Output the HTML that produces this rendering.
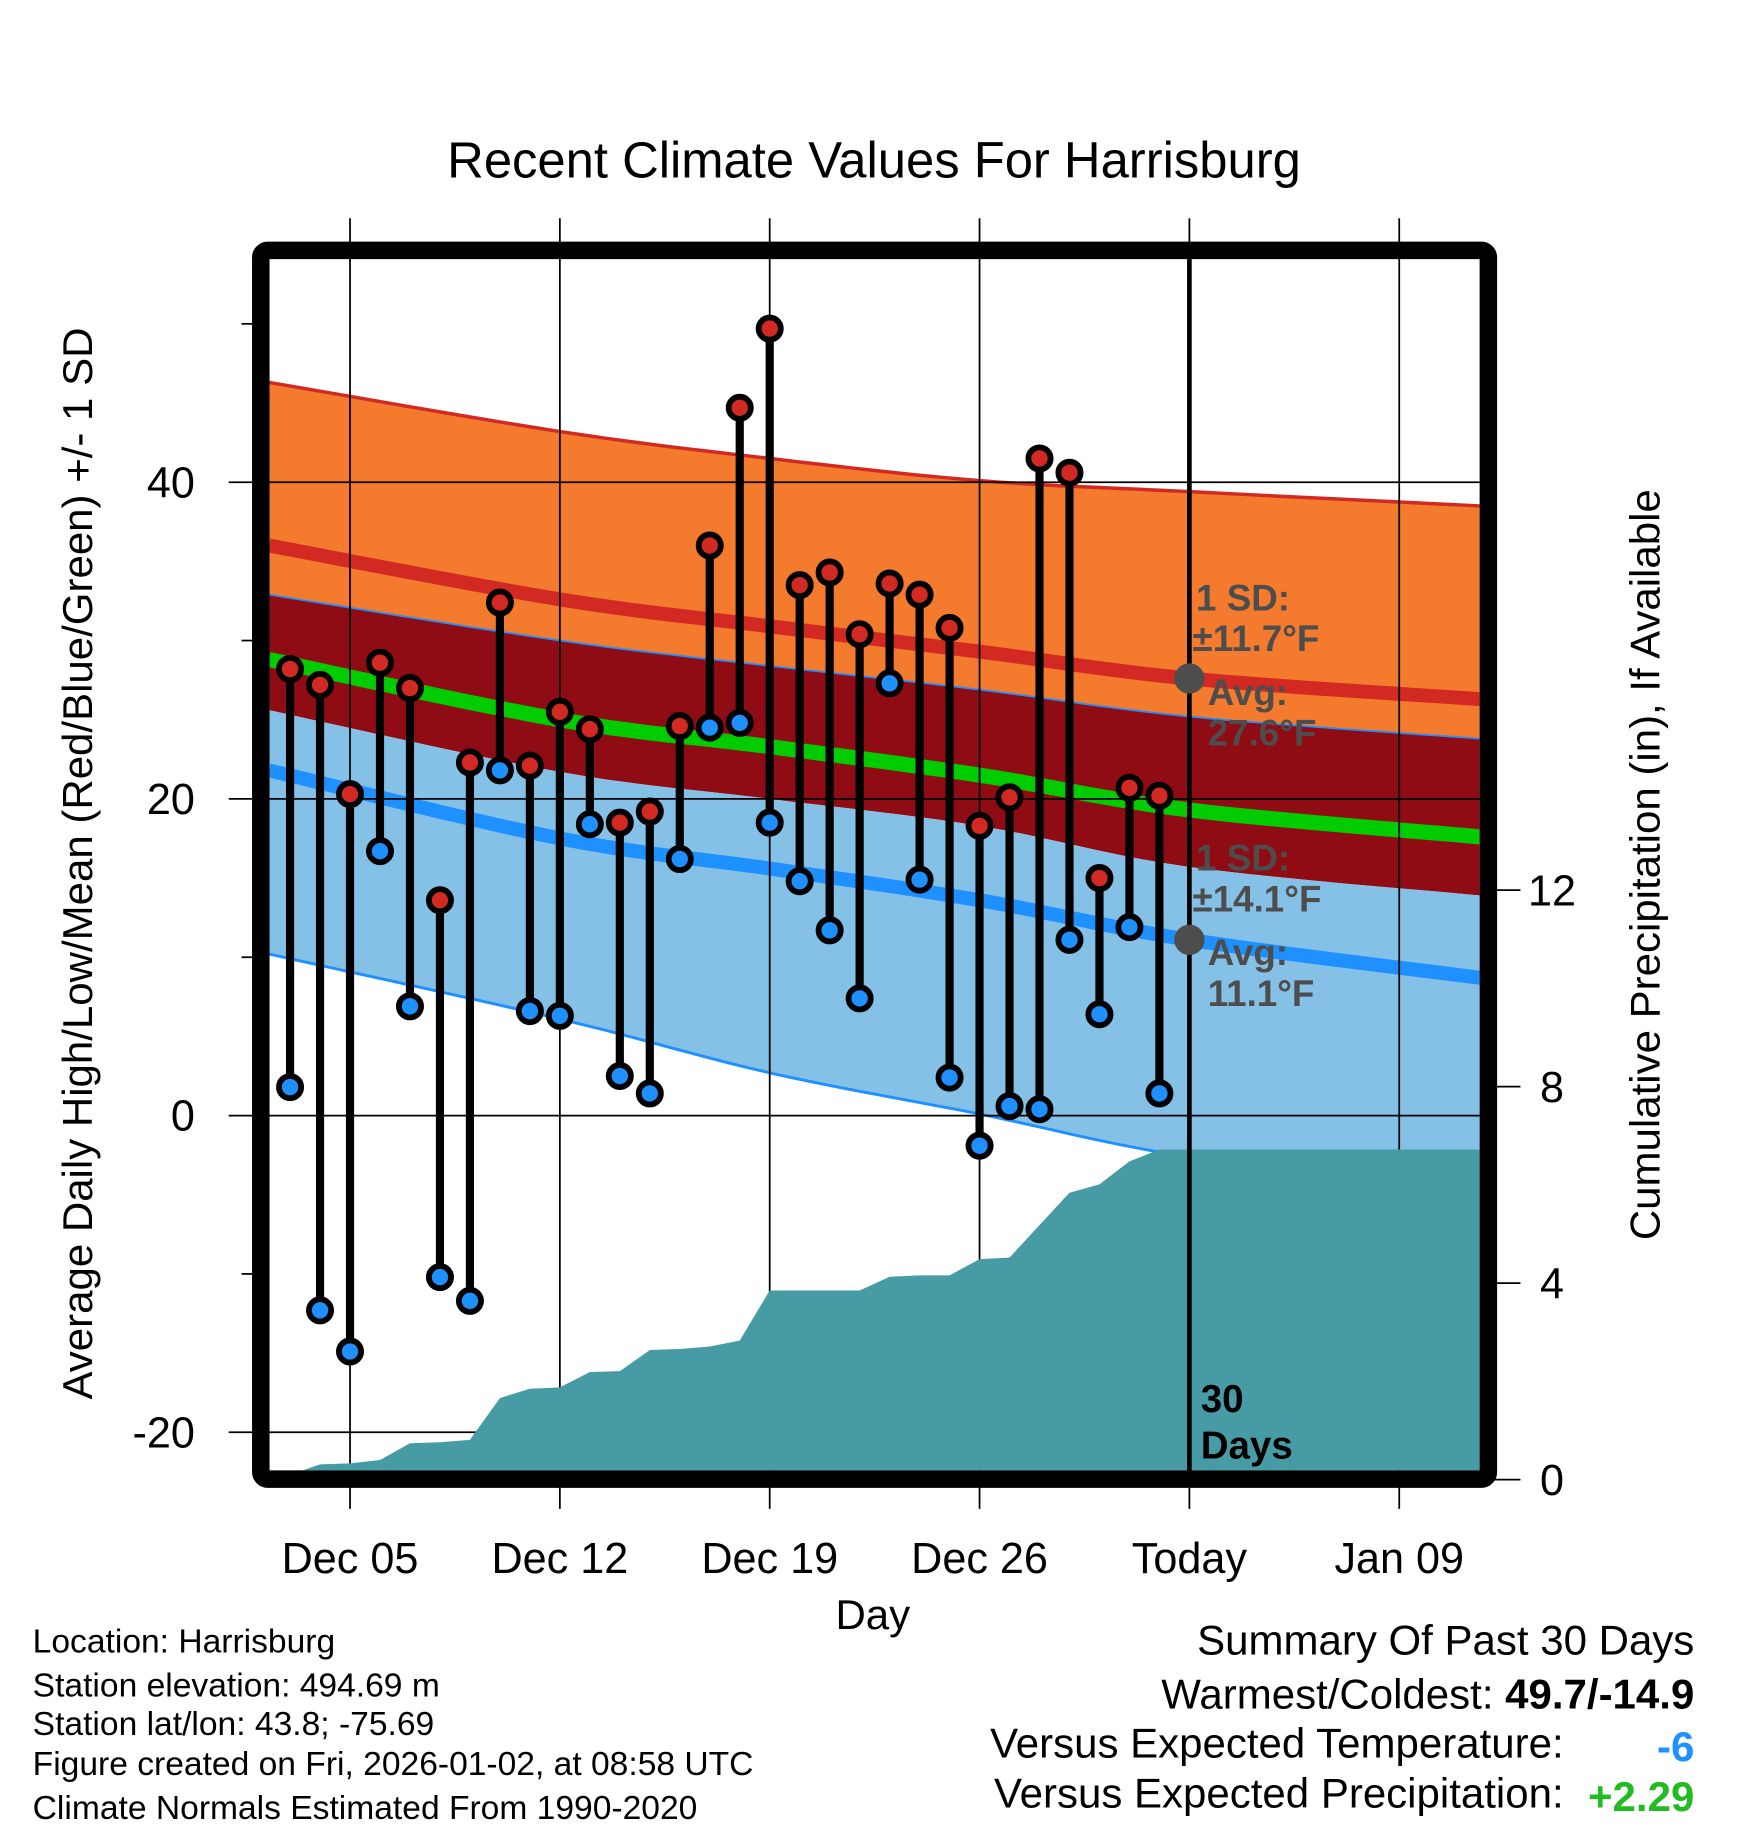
<!DOCTYPE html>
<html><head><meta charset="utf-8"><style>
html,body{margin:0;padding:0;background:#fff;}
svg{display:block;font-family:"Liberation Sans",Arial,sans-serif;}
</style></head><body>
<svg id="chart" width="1748" height="1828" viewBox="0 0 1498 1566.5" xmlns="http://www.w3.org/2000/svg">
<rect width="1498" height="1566.5" fill="#fff"/>
<text x="749" y="152" font-size="43.5" text-anchor="middle">Recent Climate Values For Harrisburg</text>
<g id="bands"></g>
<g id="grid"></g>
<g id="precip"></g>
<g id="marks"></g>
<g id="annot"></g>
<rect x="223.5" y="214.5" width="1052" height="1053" rx="6" fill="none" stroke="#000" stroke-width="15"/>
<g id="axes"></g>
<text transform="translate(79,740) rotate(-90)" font-size="36" text-anchor="middle">Average Daily High/Low/Mean (Red/Blue/Green) +/- 1 SD</text>
<text transform="translate(1422,741) rotate(-90)" font-size="36" text-anchor="middle">Cumulative Precipitation (in), If Available</text>
<text x="748" y="1396" font-size="36" text-anchor="middle">Day</text>
<g font-size="28.8">
<text x="28" y="1416">Location: Harrisburg</text>
<text x="28" y="1454">Station elevation: 494.69 m</text>
<text x="28" y="1487">Station lat/lon: 43.8; -75.69</text>
<text x="28" y="1521">Figure created on Fri, 2026-01-02, at 08:58 UTC</text>
<text x="28" y="1559">Climate Normals Estimated From 1990-2020</text>
</g>
<g font-size="36" text-anchor="end">
<text x="1452" y="1418">Summary Of Past 30 Days</text>
<text x="1452" y="1464">Warmest/Coldest: <tspan font-weight="bold">49.7/-14.9</tspan></text>
<text x="1340" y="1506">Versus Expected Temperature:</text>
<text x="1452" y="1509" font-weight="bold" fill="#1e90ff">-6</text>
<text x="1340" y="1549">Versus Expected Precipitation:</text>
<text x="1452" y="1552" font-weight="bold" fill="#22bb22">+2.29</text>
</g>
</svg>
<script>
// ---- data ----
var days = ["Dec 03","Dec 04","Dec 05","Dec 06","Dec 07","Dec 08","Dec 09","Dec 10","Dec 11","Dec 12","Dec 13","Dec 14","Dec 15","Dec 16","Dec 17","Dec 18","Dec 19","Dec 20","Dec 21","Dec 22","Dec 23","Dec 24","Dec 25","Dec 26","Dec 27","Dec 28","Dec 29","Dec 30","Dec 31","Jan 01"];
var highs = [28.2,27.2,20.3,28.6,27.0,13.6,22.3,32.4,22.1,25.5,24.4,18.5,19.2,24.6,36.0,44.7,49.7,33.5,34.3,30.4,33.6,32.9,30.8,18.3,20.1,41.5,40.6,15.0,20.7,20.2];
var lows = [1.8,-12.3,-14.9,16.7,6.9,-10.2,-11.7,21.8,6.6,6.3,18.4,2.5,1.4,16.2,24.5,24.8,18.5,14.8,11.7,7.4,27.3,14.9,2.4,-1.9,0.6,0.4,11.1,6.4,11.9,1.4];
var precip = [0.1,0.31,0.33,0.4,0.74,0.76,0.81,1.66,1.85,1.88,2.19,2.21,2.64,2.66,2.71,2.83,3.85,3.85,3.85,3.85,4.13,4.16,4.16,4.49,4.52,5.18,5.84,6.01,6.48,6.72];
var normDays = [1.3,11,18,25,32,41.7];
var hiTop = [46.3,43.2,41.5,40.1,39.4,38.5];
var hiAvg = [36.0,32.6,30.9,29.3,27.6,26.3];
var hiBot = [32.9,30.0,28.4,26.9,25.2,23.8];
var meanAvg = [28.8,25.0,23.3,21.5,19.3,17.6];
var loTop = [25.6,21.7,20.0,18.3,15.7,13.9];
var loAvg = [21.8,17.5,15.6,13.6,11.1,8.7];
var loBot = [10.2,6.1,2.7,0.1,-2.6,-4.5];
var xTickDays = [4,11,18,25,32,39];
var xTickLabels = ["Dec 05","Dec 12","Dec 19","Dec 26","Today","Jan 09"];
var yTicks = [40,20,0,-20];
var yMinor = [50,30,10,-10];
var pTicks = [0,4,8,12];

// ---- scales ----
var X0=231, X1=1268, Y0=222, Y1=1260;
function xs(d){return 197.2 + d*25.69;}
function ys(t){return 956 - t*13.57;}
function yp(p){return 1268 - p*42.1;}
var NS='http://www.w3.org/2000/svg';
function mk(parent,tag,attrs){var e=document.createElementNS(NS,tag);for(var k in attrs)e.setAttribute(k,attrs[k]);parent.appendChild(e);return e;}
function G(id){return document.getElementById(id);}
// smooth (Catmull-Rom) sampling of normals
function smooth(arr){
  var P=arr.map(function(v,i){return [xs(normDays[i]),ys(v)];});
  var out=[];
  for(var i=0;i<P.length-1;i++){
    var p0=P[Math.max(0,i-1)],p1=P[i],p2=P[i+1],p3=P[Math.min(P.length-1,i+2)];
    for(var t=0;t<1;t+=0.1){
      var t2=t*t,t3=t2*t;
      var x=0.5*((2*p1[0])+(-p0[0]+p2[0])*t+(2*p0[0]-5*p1[0]+4*p2[0]-p3[0])*t2+(-p0[0]+3*p1[0]-3*p2[0]+p3[0])*t3);
      var y=0.5*((2*p1[1])+(-p0[1]+p2[1])*t+(2*p0[1]-5*p1[1]+4*p2[1]-p3[1])*t2+(-p0[1]+3*p1[1]-3*p2[1]+p3[1])*t3);
      out.push(x.toFixed(1)+','+y.toFixed(1));
    }
  }
  var L=P[P.length-1];out.push(L[0].toFixed(1)+','+L[1].toFixed(1));
  return out;
}
function areaPts(a,b){return smooth(a).concat(smooth(b).reverse()).join(' ');}

var bands=G('bands');
var clip=mk(bands,'clipPath',{id:'pc'});mk(clip,'rect',{x:X0,y:Y0,width:X1-X0,height:Y1-Y0});
var bg=mk(bands,'g',{'clip-path':'url(#pc)'});
var e;
e=mk(bg,'polygon',{points:areaPts(hiTop,hiBot),fill:'#f47a2e'});


e=mk(bg,'polygon',{points:areaPts(hiBot,loTop),fill:'#900c14'});


e=mk(bg,'polygon',{points:areaPts(loTop,loBot),fill:'#85c1e6'});


e=mk(bg,'polyline',{points:smooth(hiTop).join(' '),fill:'none',stroke:'#d22a23',"stroke-width":3});


e=mk(bg,'polyline',{points:smooth(hiBot).join(' '),fill:'none',stroke:'#1e90ff',"stroke-width":1.5});


e=mk(bg,'polyline',{points:smooth(loBot).join(' '),fill:'none',stroke:'#1e90ff',"stroke-width":2.5});


e=mk(bg,'polyline',{points:smooth(hiAvg).join(' '),fill:'none',stroke:'#d22a23',"stroke-width":12});


e=mk(bg,'polyline',{points:smooth(meanAvg).join(' '),fill:'none',stroke:'#00cc00',"stroke-width":13});


e=mk(bg,'polyline',{points:smooth(loAvg).join(' '),fill:'none',stroke:'#1e90ff',"stroke-width":12});



// grid
var grid=G('grid');
xTickDays.forEach(function(d,i){
  var x=xs(d);
  var l=mk(grid,'line',{x1:x,x2:x,y1:187,y2:1293,stroke:'#000','stroke-width':1.5});
  
  
  var t=mk(G('axes'),'text',{x:x,y:1348,'font-size':37,'text-anchor':'middle'});t.textContent=xTickLabels[i];
  
  
});
yTicks.forEach(function(v){
  var y=ys(v);
  var l=mk(grid,'line',{x1:196,x2:X1,y1:y,y2:y,stroke:'#000','stroke-width':1.5});
  
  
  var t=mk(G('axes'),'text',{x:167,y:y+13,'font-size':37,'text-anchor':'end'});t.textContent=v;
  
  
});
yMinor.forEach(function(v){
  var y=ys(v);
  var l=mk(G('axes'),'line',{x1:207,x2:218,y1:y,y2:y,stroke:'#000','stroke-width':1.5});
  
  
});
pTicks.forEach(function(p){
  var y=yp(p);
  var l=mk(G('axes'),'line',{x1:1280,x2:1303,y1:y,y2:y,stroke:'#000','stroke-width':1.5});
  
  
  var t=mk(G('axes'),'text',{x:1330,y:y+13,'font-size':37,'text-anchor':'middle'});t.textContent=p;
  
  
});

// precip area
var pg=mk(G('precip'),'g',{'clip-path':'url(#pc)'});
var pts=[[xs(2),yp(0)]];
precip.forEach(function(p,i){pts.push([xs(i+2),yp(p)]);});
pts.push([X1+5,yp(precip[precip.length-1])]);pts.push([X1+5,yp(0)]);
var pa=mk(pg,'polygon',{points:pts.map(function(p){return p[0].toFixed(1)+','+p[1].toFixed(1);}).join(' '),fill:'#479ba4'});


var tl=mk(G('precip'),'line',{x1:xs(32),x2:xs(32),y1:Y0,y2:Y1,stroke:'#000','stroke-width':4});



// marks
var mg=G('marks');
days.forEach(function(d,i){
  var x=xs(i+2);
  var s=mk(mg,'line',{x1:x,x2:x,y1:ys(highs[i]),y2:ys(lows[i]),stroke:'#000','stroke-width':7});
  
  
});
days.forEach(function(d,i){
  var x=xs(i+2);
  var c=mk(mg,'circle',{cx:x,cy:ys(highs[i]),r:9.5,fill:'#d22a23',stroke:'#000','stroke-width':5});
  
  
  var c2=mk(mg,'circle',{cx:x,cy:ys(lows[i]),r:9.5,fill:'#1e90ff',stroke:'#000','stroke-width':5});
  
  
});

// annotations
var an=G('annot');
var tx=xs(32);
var ca=mk(an,'circle',{cx:tx,cy:ys(hiAvg[4]),r:13,fill:'#4d4d4d'});


var cb=mk(an,'circle',{cx:tx,cy:ys(loAvg[4]),r:13,fill:'#4d4d4d'});


var labs=[["1 SD:",1025,523],["\u00B111.7\u00B0F",1022,558],["Avg:",1035,604],["27.6\u00B0F",1035,639],
          ["1 SD:",1025,746],["\u00B114.1\u00B0F",1022,781],["Avg:",1035,827],["11.1\u00B0F",1035,862]];
labs.forEach(function(l){
  var t=mk(an,'text',{x:l[1],y:l[2],'font-size':31.5,'font-weight':'bold',fill:'#4d4d4d'});t.textContent=l[0];
  
  
});
[["30",1029,1210],["Days",1029,1250]].forEach(function(l){
  var t=mk(an,'text',{x:l[1],y:l[2],'font-size':33,'font-weight':'bold',fill:'#000'});t.textContent=l[0];
  
  
});
</script>
</body></html>
